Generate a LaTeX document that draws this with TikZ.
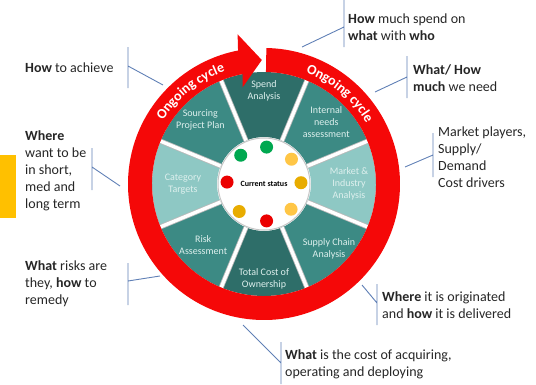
\documentclass[tikz,border=0pt]{standalone}
\usepackage{fontspec}
\setmainfont{Carlito}
\usetikzlibrary{decorations.text}
\definecolor{ringred}{RGB}{245,8,8}
\definecolor{tealdark}{RGB}{46,110,105}
\definecolor{tealmid}{RGB}{60,138,132}
\definecolor{teallight}{RGB}{142,200,196}
\definecolor{seglabel}{RGB}{222,240,238}
\definecolor{callline}{RGB}{96,128,182}
\definecolor{calltext}{RGB}{38,38,38}
\definecolor{dotgreen}{RGB}{0,168,80}
\definecolor{dotred}{RGB}{235,0,0}
\definecolor{dotyellow}{RGB}{255,198,70}
\definecolor{dotamber}{RGB}{232,172,0}
\definecolor{barorange}{RGB}{255,192,0}

\begin{document}
\begin{tikzpicture}[x=1pt,y=1pt,
    seglbl/.style={text=seglabel,align=center,font=\fontsize{10}{12}\selectfont},
    calltxt/.style={anchor=west,align=left,text=calltext,inner sep=0pt,font=\fontsize{14}{17}\selectfont},
    callout/.style={callline,line width=0.9pt},
    ringtxt/.style={decorate,decoration={text along path,text align=center,
      text={|\fontsize{14}{14}\selectfont\bfseries\color{white}|Ongoing cycle}}}]
  \useasboundingbox (0,0) rectangle (536,384);
  \coordinate (c) at (264,200);

  \fill[barorange] (0,166) rectangle (16,229);

  \foreach \a/\col/\r/\txt in {90/tealdark/93/{Spend\\Analysis},
      45/tealmid/88/{Internal\\needs\\assessment},
      0/teallight/85/{Market \&\\Industry\\Analysis},
      -45/tealmid/92/{Supply Chain\\Analysis},
      -90/tealdark/95/{Total Cost of\\Ownership},
      -135/tealmid/86/{Risk\\Assessment},
      180/teallight/81/{Category\\Targets},
      135/tealmid/90/{Sourcing\\Project Plan}}{
    \fill[\col] ([shift={(\a-22.5:47)}]c) arc[start angle=\a-22.5,end angle=\a+22.5,radius=47]
      -- ([shift={(\a+22.5:112)}]c) arc[start angle=\a+22.5,end angle=\a-22.5,radius=112] -- cycle;
    \node[seglbl] (seg\a) at ([shift={(\a:\r)}]c) {\txt};
  }
  \foreach \a in {22.5,67.5,...,337.5}{
    \draw[gray!55,line width=5pt] ([shift={(\a:47)}]c) -- ([shift={(\a:112)}]c);
    \draw[white,line width=3.4pt] ([shift={(\a:47)}]c) -- ([shift={(\a:112)}]c);
  }

  \node[circle,fill=white,draw=gray!45,line width=1pt,minimum size=92pt,inner sep=0pt,
    font=\bfseries\fontsize{8}{9}\selectfont] (status) at (c) {Current status};
  \foreach \a/\col in {129/dotgreen,86/dotgreen,42/dotyellow,2/dotamber,
      -43/dotyellow,-86/dotred,-132/dotamber,177/dotred}
    \fill[\col] ([shift={(\a:37)}]c) circle[radius=6.5];

  \fill[ringred] ([shift={(89:136)}]c) arc[start angle=89,end angle=-259,radius=136]
    -- ([shift={(100:152)}]c) -- ([shift={(91:124)}]c) -- ([shift={(102.5:99)}]c)
    -- ([shift={(101:112)}]c) arc[start angle=-259,end angle=89,radius=112] -- cycle;
  \path[ringtxt] ([shift={(153:119)}]c) arc[start angle=153,end angle=104,radius=119];
  \path[ringtxt] ([shift={(73:119)}]c) arc[start angle=73,end angle=27,radius=119];

  \node[calltxt] (achieve) at (25,316) {\textbf{How} to achieve};
  \node[calltxt] (where) at (25,213) {\textbf{Where}\\want to be\\in short,\\med and\\long term};
  \node[calltxt] (risks) at (25,100) {\textbf{What} risks are\\they, \textbf{how} to\\remedy};
  \node[calltxt] (spend) at (348,357) {\textbf{How} much spend on\\\textbf{what} with \textbf{who}};
  \node[calltxt] (needs) at (413,306) {\textbf{What/ How}\\\textbf{much} we need};
  \node[calltxt] (market) at (438,227) {Market players,\\Supply/\\Demand\\Cost drivers};
  \node[calltxt] (origin) at (382,79) {\textbf{Where} it is originated\\and \textbf{how} it is delivered};
  \node[calltxt] (cost) at (285,20) {\textbf{What} is the cost of acquiring,\\operating and deploying};

  \foreach \n/\bx/\yt/\yb/\ym/\rx/\ry in {achieve/128/337/296/318/163/299,
      where/92/236/194/217/120/198, risks/128/121/79/103/160/108,
      spend/344/384/337/357/302/337, needs/407/328/286/307/375/292,
      market/433/251/207/229/405/217, origin/377/100/59/81/362/99,
      cost/281/42/0/21/243/59}{
    \coordinate (\n-t) at (\bx,\yt);
    \coordinate (\n-b) at (\bx,\yb);
    \coordinate (\n-m) at (\bx,\ym);
    \coordinate (\n-r) at (\rx,\ry);
    \draw[callout] (\n-t) -- (\n-b) (\n-m) -- (\n-r);
  }
\end{tikzpicture}
\end{document}
